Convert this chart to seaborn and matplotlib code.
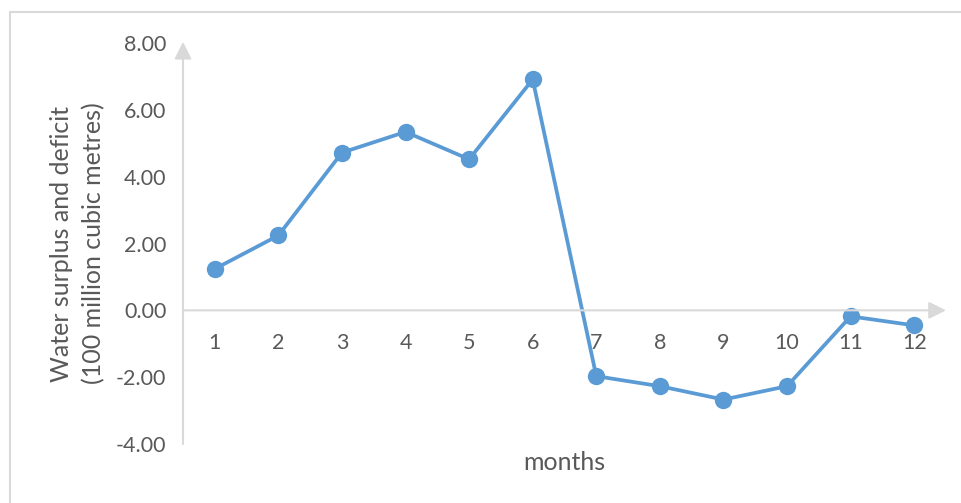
import numpy as np
import pandas as pd
import seaborn as sns
import matplotlib
matplotlib.use("Agg")
import matplotlib.pyplot as plt
from matplotlib.patches import Rectangle

# monthly water surplus / deficit
months = [1, 2, 3, 4, 5, 6, 7, 8, 9, 10, 11, 12]
surplus = [1.24, 2.24, 4.72, 5.34, 4.52, 6.91, -1.97, -2.27, -2.67, -2.27, -0.18, -0.45]
yticks = [-4.0, -2.0, 0.0, 2.0, 4.0, 6.0, 8.0]

line_color = "#5B9BD5"
axis_color = "#D9D9D9"
text_color = "#595959"

sns.set_theme(style="white")
plt.rcParams["font.family"] = ["Lato", "DejaVu Sans"]

df = pd.DataFrame({"month": months, "surplus": surplus})

fig = plt.figure(figsize=(9.62, 5.03), dpi=100)
ax = fig.add_axes([183 / 962, 1 - 444 / 503, (946 - 183) / 962, (444 - 43) / 503])

sns.lineplot(data=df, x="month", y="surplus", ax=ax, color=line_color,
             linewidth=2.7, marker="o", markersize=12.5, markeredgewidth=0)

ax.set_xlim(0.5, 12.5)
ax.set_ylim(-4, 8)
ax.set_xticks(months)
ax.set_xticklabels([str(m) for m in months])
ax.set_yticks(yticks)
ax.set_yticklabels([f"{v:.2f}" for v in yticks])

# axes: x axis runs through zero, both with arrow heads
for s in ax.spines.values():
    s.set_visible(False)
ax.spines["bottom"].set_position(("data", 0))
ax.tick_params(axis="both", length=0, colors=text_color, labelsize=15.5)
ax.tick_params(axis="x", pad=16)
ax.tick_params(axis="y", pad=12)

arrow = dict(arrowstyle="-|>", color=axis_color, lw=1.5, mutation_scale=26,
             shrinkA=0, shrinkB=0)
ax.annotate("", xy=(0, 1.003), xytext=(0, 0), xycoords="axes fraction",
            textcoords="axes fraction", arrowprops=arrow, annotation_clip=False)
ax.annotate("", xy=(1.0, 0), xytext=(0, 0), xycoords=ax.get_yaxis_transform(),
            textcoords=ax.get_yaxis_transform(), arrowprops=arrow,
            annotation_clip=False)

ax.set_xlabel("months", fontsize=18, color=text_color)
ax.xaxis.set_label_coords(0.5, -0.018)
ax.set_ylabel("Water surplus and deficit\n(100 million cubic metres)",
              fontsize=18, color=text_color, va="center", linespacing=1.45)
ax.yaxis.set_label_coords(-0.138, 0.5)

# light chart-area border
fig.patches.append(Rectangle((10 / 962, -0.1), 1.0, 1 - 12 / 503 + 0.1,
                             transform=fig.transFigure, fill=False,
                             edgecolor=axis_color, linewidth=1.5))

fig.savefig("out.png", dpi=100)
